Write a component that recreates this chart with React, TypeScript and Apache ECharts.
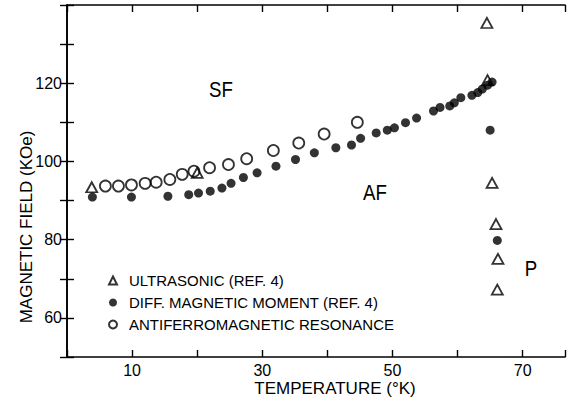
import React, { useEffect, useRef } from "react";
import * as echarts from "echarts";

const ultrasonic: [number, number][] = [
  [3.8, 93.4], [20.0, 97.1], [64.5, 135.4], [64.6, 120.8],
  [65.3, 94.5], [65.9, 84.0], [66.2, 75.1], [66.1, 67.2],
];

const diffMoment: [number, number][] = [
  [3.9, 90.9], [9.9, 90.9], [15.5, 91.1], [18.7, 91.5], [20.2, 91.9],
  [22.0, 92.4], [23.8, 93.2], [25.2, 94.4], [27.1, 95.9], [29.2, 97.1],
  [32.1, 98.8], [35.1, 100.5], [38.0, 102.2], [41.3, 103.5], [43.7, 104.2],
  [45.1, 105.9], [47.5, 107.3], [49.2, 108.0], [50.3, 108.6], [52.0, 109.9],
  [53.7, 111.1], [56.3, 112.9], [57.3, 113.8], [58.8, 114.2], [59.5, 115.0],
  [60.5, 116.3], [62.2, 116.9], [63.1, 117.6], [63.8, 118.5], [64.6, 119.5],
  [65.3, 120.3], [65.0, 108.0], [66.1, 79.8],
];

const afmr: [number, number][] = [
  [5.9, 93.7], [7.9, 93.7], [9.9, 94.0], [12.0, 94.4], [13.7, 94.7],
  [15.8, 95.4], [17.7, 96.7], [19.5, 97.5], [21.9, 98.4], [24.8, 99.2],
  [27.6, 100.7], [31.7, 102.8], [35.6, 104.7], [39.5, 107.0], [44.6, 110.0],
];

const xLabels = [10, 30, 50, 70];
const yLabels = [60, 80, 100, 120];

const seriesNames = [
  "ULTRASONIC (REF. 4)",
  "DIFF. MAGNETIC MOMENT (REF. 4)",
  "ANTIFERROMAGNETIC RESONANCE",
];

const FONT = "'Liberation Sans', Arial, sans-serif";

export default function App() {
  const ref = useRef<HTMLDivElement>(null);
  useEffect(() => {
    if (!ref.current) return;
    const chart = echarts.init(ref.current, undefined, { renderer: "svg" });
    const axisLine = { show: true, lineStyle: { color: "#000", width: 1.6 } };
    const axisTick = { show: true, inside: true, length: 7, lineStyle: { color: "#000", width: 1.4 } };
    const xCommon = { type: "value" as const, min: 0, max: 76.5, interval: 10, splitLine: { show: false }, axisLine, axisTick };
    const yCommon = { type: "value" as const, min: 50, max: 140, interval: 10, splitLine: { show: false }, axisLine, axisTick };
    chart.setOption({
      animation: false,
      backgroundColor: "#fff",
      grid: { left: 67, top: 5, width: 502, height: 352 },
      xAxis: [
        {
          ...xCommon,
          position: "bottom",
          axisLabel: {
            color: "#000", fontFamily: FONT, fontSize: 16, margin: 5,
            formatter: (v: number) => (xLabels.includes(v) ? String(v) : ""),
          },
        },
        { ...xCommon, position: "top", axisLabel: { show: false } },
      ],
      yAxis: [
        {
          ...yCommon,
          position: "left",
          axisLabel: {
            color: "#000", fontFamily: FONT, fontSize: 16, margin: 5,
            formatter: (v: number) => (yLabels.includes(v) ? String(v) : ""),
          },
        },
        { ...yCommon, position: "right", axisLabel: { show: false } },
      ],
      legend: {
        orient: "vertical",
        left: 108,
        top: 273,
        padding: 0,
        itemWidth: 8,
        itemHeight: 8,
        itemGap: 7,
        data: seriesNames,
        textStyle: { color: "#000", fontFamily: FONT, fontSize: 15, lineHeight: 15, padding: [0, 0, 0, 7] },
      },
      series: [
        {
          name: seriesNames[0],
          type: "scatter",
          data: ultrasonic,
          symbol: "triangle",
          symbolSize: [11, 10],
          itemStyle: { color: "rgba(0,0,0,0)", borderColor: "#000", borderWidth: 1.8 },
          z: 3,
        },
        {
          name: seriesNames[1],
          type: "scatter",
          data: diffMoment,
          symbol: "circle",
          symbolSize: 9,
          itemStyle: { color: "#000" },
          z: 2,
        },
        {
          name: seriesNames[2],
          type: "scatter",
          data: afmr,
          symbol: "circle",
          symbolSize: 11,
          itemStyle: { color: "rgba(0,0,0,0)", borderColor: "#000", borderWidth: 1.8 },
          z: 2,
        },
      ],
      graphic: [
        {
          type: "text",
          x: 26, y: 227, rotation: Math.PI / 2,
          style: { text: "MAGNETIC FIELD (KOe)", fill: "#000", font: `17px ${FONT}`, align: "center", verticalAlign: "middle" },
        },
        {
          type: "text",
          x: 335, y: 388,
          style: { text: "TEMPERATURE (°K)", fill: "#000", font: `17px ${FONT}`, align: "center", verticalAlign: "middle" },
        },
        {
          type: "text", x: 221, y: 89, scaleX: 0.85,
          style: { text: "SF", fill: "#000", font: `22px ${FONT}`, align: "center", verticalAlign: "middle" },
        },
        {
          type: "text", x: 375, y: 192, scaleX: 0.85,
          style: { text: "AF", fill: "#000", font: `22px ${FONT}`, align: "center", verticalAlign: "middle" },
        },
        {
          type: "text", x: 531, y: 268, scaleX: 0.85,
          style: { text: "P", fill: "#000", font: `22px ${FONT}`, align: "center", verticalAlign: "middle" },
        },
      ],
    });
    return () => chart.dispose();
  }, []);
  return <div ref={ref} style={{ position: "absolute", left: 0, top: 0, width: 568, height: 400 }} />;
}
